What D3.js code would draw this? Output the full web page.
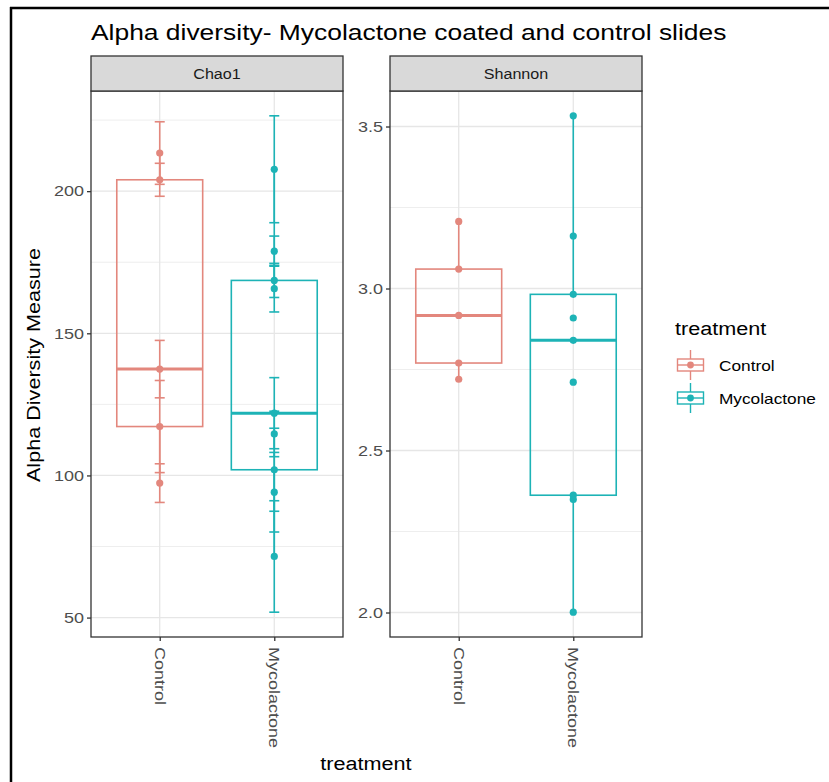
<!DOCTYPE html>
<html>
<head>
<meta charset="utf-8">
<script src="https://cdn.jsdelivr.net/npm/d3@7"></script>
<style>
  html, body { margin: 0; padding: 0; background: #fff; }
  svg { display: block; font-family: "Liberation Sans", Arial, sans-serif; }
</style>
</head>
<body>
<svg id="chart" width="829" height="782"></svg>
<script>
// ---- data -------------------------------------------------------------
const categories = ["Control", "Mycolactone"];
const measures = ["Chao1", "Shannon"];

// Chao1 richness per sample, with its standard error (se.chao1)
const chao1Control   = [213.4, 204.0, 137.4, 117.2, 97.3];
const chao1ControlSE = [11.0, 5.8, 10.1, 16.2, 6.8];
const chao1Myco      = [207.7, 178.9, 168.6, 165.7, 121.9, 114.6, 102.0, 94.1, 71.5];
const chao1MycoSE    = [18.8, 5.3, 6.0, 8.2, 12.5, 8.0, 14.6, 14.0, 19.6];

// Shannon index per sample (no standard error)
const shannonControl = [3.207, 3.060, 2.917, 2.770, 2.720];
const shannonMyco    = [3.533, 3.162, 2.982, 2.909, 2.840, 2.711, 2.362, 2.349, 2.001];

const chao1Ticks   = [50, 100, 150, 200];
const shannonTicks = [2.0, 2.5, 3.0, 3.5];

const colours = { Control: "#E3877D", Mycolactone: "#1DB3B6" };

// text is drawn a little wider than the font's natural advance
const WIDEN = 1.2;
function widen(sel, f = WIDEN) {
  sel.each(function () {
    const w = this.getComputedTextLength();
    d3.select(this).attr("textLength", w * f).attr("lengthAdjust", "spacingAndGlyphs");
  });
  return sel;
}

// ---- layout -----------------------------------------------------------
const svg = d3.select("#chart");
const panelTop = 91, panelBottom = 637;
const panels = [
  { measure: "Chao1",   x0: 91,  x1: 343,
    series: { Control: { v: chao1Control, se: chao1ControlSE },
              Mycolactone: { v: chao1Myco, se: chao1MycoSE } },
    ticks: chao1Ticks, fmt: d3.format("d") },
  { measure: "Shannon", x0: 390, x1: 642,
    series: { Control: { v: shannonControl, se: null },
              Mycolactone: { v: shannonMyco, se: null } },
    ticks: shannonTicks, fmt: d3.format(".1f") }
];

// framing lines of the exported figure
svg.append("line").attr("x1", 11).attr("x2", 11).attr("y1", 7).attr("y2", 782)
  .attr("stroke", "#000").attr("stroke-width", 2.5);
svg.append("line").attr("x1", 10).attr("x2", 829).attr("y1", 8).attr("y2", 8)
  .attr("stroke", "#000").attr("stroke-width", 2.5);

// title
widen(svg.append("text").attr("x", 91).attr("y", 40)
  .attr("font-size", 22).attr("fill", "#000")
  .text("Alpha diversity- Mycolactone coated and control slides"));

function boxStats(values) {
  const s = values.slice().sort(d3.ascending);
  const q1 = d3.quantile(s, 0.25), med = d3.quantile(s, 0.5), q3 = d3.quantile(s, 0.75);
  const iqr = q3 - q1;
  const lo = d3.min(s.filter(v => v >= q1 - 1.5 * iqr));
  const hi = d3.max(s.filter(v => v <= q3 + 1.5 * iqr));
  return { q1, med, q3, lo, hi };
}

panels.forEach(p => {
  const g = svg.append("g");

  // y range covers points and error bars, expanded by 5%
  let lows = [], highs = [];
  categories.forEach(c => {
    const s = p.series[c];
    s.v.forEach((v, i) => {
      const e = s.se ? s.se[i] : 0;
      lows.push(v - e); highs.push(v + e);
    });
  });
  const dmin = d3.min(lows), dmax = d3.max(highs), pad = (dmax - dmin) * 0.05;
  const y = d3.scaleLinear().domain([dmin - pad, dmax + pad]).range([panelBottom, panelTop]);

  // discrete x with 0.6 expansion on each side
  const x = d3.scalePoint().domain(categories).range([p.x0, p.x1]).padding(0.6);
  const unit = x.step();

  // grid
  const minor = [];
  const step = p.ticks[1] - p.ticks[0];
  for (let t = p.ticks[0] - step / 2; t <= p.ticks[p.ticks.length - 1] + step; t += step) {
    if (t > y.domain()[0] && t < y.domain()[1]) minor.push(t);
  }
  g.selectAll(".minor").data(minor).join("line")
    .attr("x1", p.x0).attr("x2", p.x1)
    .attr("y1", d => y(d)).attr("y2", d => y(d))
    .attr("stroke", "#EEEEEE").attr("stroke-width", 1);
  g.selectAll(".major").data(p.ticks).join("line")
    .attr("x1", p.x0).attr("x2", p.x1)
    .attr("y1", d => y(d)).attr("y2", d => y(d))
    .attr("stroke", "#E6E6E6").attr("stroke-width", 1.3);
  g.selectAll(".vmajor").data(categories).join("line")
    .attr("x1", d => x(d)).attr("x2", d => x(d))
    .attr("y1", panelTop).attr("y2", panelBottom)
    .attr("stroke", "#E6E6E6").attr("stroke-width", 1.3);

  categories.forEach(c => {
    const s = p.series[c];
    const col = colours[c];
    const cx = x(c);
    const st = boxStats(s.v);
    const bw = unit * 0.75;

    // whiskers
    g.append("line").attr("x1", cx).attr("x2", cx)
      .attr("y1", y(st.q3)).attr("y2", y(st.hi)).attr("stroke", col).attr("stroke-width", 1.6);
    g.append("line").attr("x1", cx).attr("x2", cx)
      .attr("y1", y(st.q1)).attr("y2", y(st.lo)).attr("stroke", col).attr("stroke-width", 1.6);
    // box
    g.append("rect").attr("x", cx - bw / 2).attr("width", bw)
      .attr("y", y(st.q3)).attr("height", y(st.q1) - y(st.q3))
      .attr("fill", "none").attr("stroke", col).attr("stroke-width", 1.6);
    g.append("line").attr("x1", cx - bw / 2).attr("x2", cx + bw / 2)
      .attr("y1", y(st.med)).attr("y2", y(st.med))
      .attr("stroke", col).attr("stroke-width", 3);

    // error bars
    if (s.se) {
      const cap = 5;
      s.v.forEach((v, i) => {
        const lo = y(v - s.se[i]), hi = y(v + s.se[i]);
        g.append("line").attr("x1", cx).attr("x2", cx).attr("y1", lo).attr("y2", hi)
          .attr("stroke", col).attr("stroke-width", 1.6);
        [lo, hi].forEach(yy => g.append("line")
          .attr("x1", cx - cap).attr("x2", cx + cap).attr("y1", yy).attr("y2", yy)
          .attr("stroke", col).attr("stroke-width", 1.6));
      });
    }
    // points
    g.selectAll(null).data(s.v).join("circle")
      .attr("cx", cx).attr("cy", d => y(d)).attr("r", 3.6).attr("fill", col);
  });

  // panel border
  g.append("rect").attr("x", p.x0).attr("y", panelTop)
    .attr("width", p.x1 - p.x0).attr("height", panelBottom - panelTop)
    .attr("fill", "none").attr("stroke", "#333").attr("stroke-width", 1.3);

  // strip
  g.append("rect").attr("x", p.x0).attr("y", 56)
    .attr("width", p.x1 - p.x0).attr("height", panelTop - 56)
    .attr("fill", "#D9D9D9").attr("stroke", "#333").attr("stroke-width", 1.3);
  widen(g.append("text").attr("x", (p.x0 + p.x1) / 2).attr("y", 78.5)
    .attr("text-anchor", "middle").attr("font-size", 14).attr("fill", "#1a1a1a")
    .text(p.measure), 1.15);

  // y axis
  const yAxis = d3.axisLeft(y).tickValues(p.ticks).tickFormat(p.fmt).tickSize(4).tickPadding(3);
  const ya = g.append("g").attr("transform", `translate(${p.x0},0)`).call(yAxis);
  ya.select(".domain").remove();
  ya.selectAll(".tick line").attr("stroke", "#333").attr("stroke-width", 1.3);
  widen(ya.selectAll(".tick text").attr("font-size", 15).attr("fill", "#4D4D4D")
    .attr("font-family", "Liberation Sans, Arial, sans-serif"));

  // x axis with rotated labels
  const xAxis = d3.axisBottom(x).tickSize(4).tickPadding(0);
  const xa = g.append("g").attr("transform", `translate(0,${panelBottom})`).call(xAxis);
  xa.select(".domain").remove();
  xa.selectAll(".tick line").attr("stroke", "#333").attr("stroke-width", 1.3);
  widen(xa.selectAll(".tick text")
    .attr("font-size", 15).attr("fill", "#4D4D4D")
    .attr("font-family", "Liberation Sans, Arial, sans-serif")
    .attr("text-anchor", "start").attr("dy", null)
    .attr("dominant-baseline", "central")
    .attr("transform", "translate(0,10) rotate(90)")
    .attr("x", 0).attr("y", 0));
});

// axis titles
widen(svg.append("text").attr("transform", "translate(40,365) rotate(-90)")
  .attr("text-anchor", "middle").attr("font-size", 18).attr("fill", "#000")
  .text("Alpha Diversity Measure"));
widen(svg.append("text").attr("x", 366).attr("y", 770)
  .attr("text-anchor", "middle").attr("font-size", 18).attr("fill", "#000")
  .text("treatment"));

// legend
const legend = svg.append("g").attr("transform", "translate(675,0)");
widen(legend.append("text").attr("x", 0).attr("y", 335).attr("font-size", 18).attr("fill", "#000")
  .text("treatment"));
categories.forEach((c, i) => {
  const cy = 365 + i * 33, col = colours[c];
  const k = legend.append("g").attr("transform", `translate(15.5,${cy})`);
  k.append("line").attr("x1", 0).attr("x2", 0).attr("y1", -15).attr("y2", 15)
    .attr("stroke", col).attr("stroke-width", 1.4);
  k.append("rect").attr("x", -13).attr("y", -6).attr("width", 26).attr("height", 12)
    .attr("fill", "#fff").attr("stroke", col).attr("stroke-width", 1.4);
  k.append("line").attr("x1", -13).attr("x2", 13).attr("y1", 0).attr("y2", 0)
    .attr("stroke", col).attr("stroke-width", 1.4);
  k.append("circle").attr("r", 3.4).attr("fill", col);
  widen(legend.append("text").attr("x", 44).attr("y", cy + 5.5).attr("font-size", 15)
    .attr("fill", "#000").text(c), 1.15);
});
</script>
</body>
</html>
